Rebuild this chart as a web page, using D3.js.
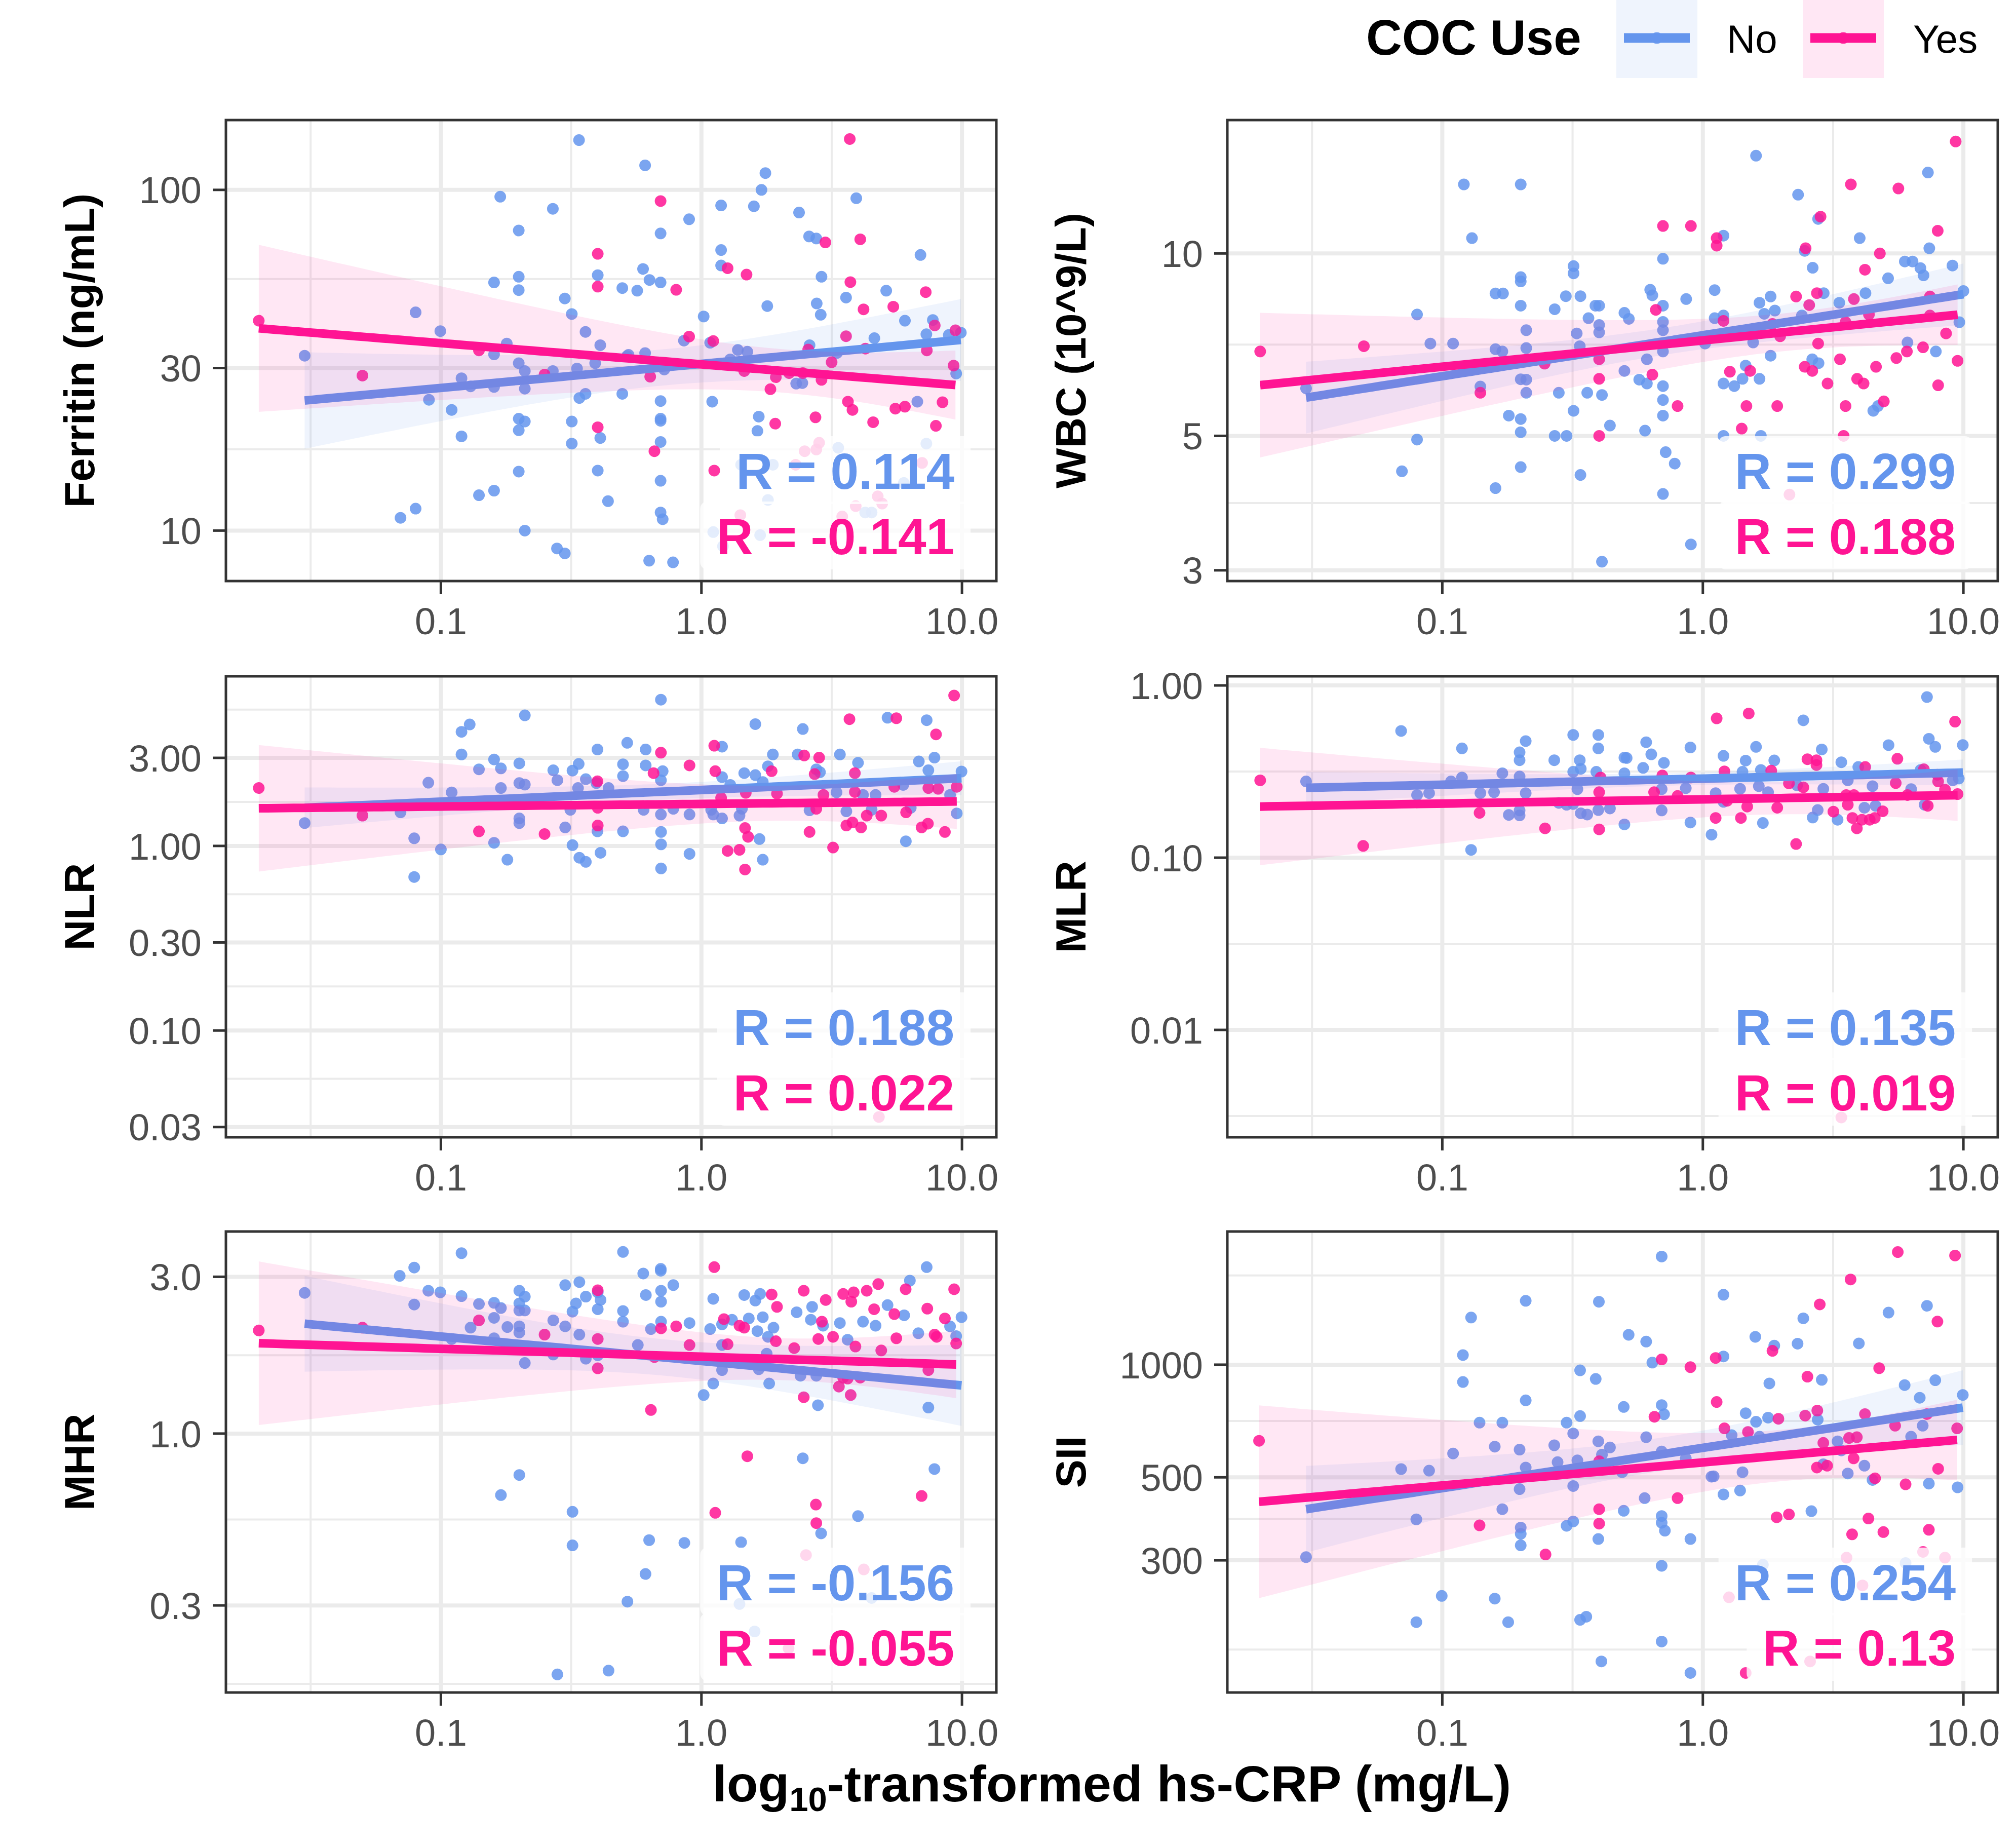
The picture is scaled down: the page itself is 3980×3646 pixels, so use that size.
<!DOCTYPE html>
<html>
<head>
<meta charset="utf-8">
<script src="https://cdn.jsdelivr.net/npm/d3@7/dist/d3.min.js"></script>
<style>
body { margin: 0; background: #fff; }
text { font-family: "Liberation Sans", Arial, Helvetica, sans-serif; }
</style>
</head>
<body>
<div id="chart-area"></div>
<script>
// points, [hs-CRP, marker]
var ferritinNo = [[0.339,140],[0.608,118],[1.76,112],[1.70,100],[0.169,95.5],[0.269,88],[1.19,90],[1.59,89.5],[2.37,85.8],[3.93,94.5],[0.199,76],[0.897,82],[0.697,74.5],[2.59,73],[2.76,72],[6.93,64.4],[1.19,66.6],[1.19,60],[0.597,58.6],[0.40,56.2],[0.199,55.6],[0.632,54.4],[0.697,53.5],[0.16,53.5],[0.199,50.8],[0.497,51.5],[0.567,50.6],[2.89,55.6],[5.12,50.6],[3.59,48.3],[0.299,48.0],[1.79,45.6],[2.77,46.4],[2.87,43],[0.080,43.7],[0.318,43.2],[1.02,42.5],[6.04,41.3],[7.73,41.5],[9.9,38.1],[8.9,37.5],[7.3,37.7],[4.61,36.7],[0.0995,38.5],[0.359,38.3],[0.179,35.4],[0.409,35],[0.857,36.1],[1.08,35.6],[1.38,33.9],[1.50,33.5],[2.60,35],[0.030,32.6],[0.16,32.9],[0.608,33.2],[0.518,32.5],[1.29,31.8],[0.199,31.0],[0.391,31],[0.333,29.9],[0.269,29.4],[0.21,29.4],[0.12,28.0],[0.13,26.5],[0.16,26.4],[0.21,26.1],[0.090,24.2],[0.110,22.6],[0.34,24.5],[0.359,25.2],[0.497,25.2],[0.697,24.0],[1.10,23.9],[2.31,27.0],[2.44,27.1],[6.74,23.9],[0.199,21.3],[0.21,20.9],[0.318,20.9],[0.697,21.3],[0.697,21],[1.66,21.6],[0.199,19.7],[0.12,18.9],[0.318,18.0],[0.409,18.7],[0.697,18.2],[1.64,19.6],[0.199,14.9],[0.40,15.0],[0.697,14.0],[0.14,12.7],[0.16,13.1],[0.438,12.2],[0.070,10.9],[0.080,11.6],[0.697,11.3],[0.71,10.8],[0.21,10],[0.279,8.86],[0.299,8.57],[0.63,8.16],[0.778,8.07],[3.35,17.5],[1.8,12.3],[4.25,11.3],[4.5,11.3],[5.98,13.8],[7.3,18.0],[1.68,9.7],[1.21,9.0],[1.11,9.9],[9.5,28.9],[1.88,15.6],[1.42,15.6],[3.31,33.2],[0.72,29.7],[0.525,32.8]];
var ferritinYes = [[3.71,141],[0.697,92.7],[4.07,71.6],[2.99,70.1],[0.40,64.9],[0.40,52],[1.26,58.9],[1.49,56.4],[0.80,50.9],[3.73,53.6],[7.26,50.1],[4.19,44.6],[5.45,45.4],[7.86,40],[9.44,38.7],[0.020,41.3],[0.897,37.1],[1.11,36],[3.59,37.2],[4.26,34.2],[2.57,34],[7.33,33.8],[0.14,33.8],[9.29,30.5],[0.050,28.5],[0.25,28.7],[0.636,28.3],[1.46,29.4],[1.93,28.2],[2.45,29.0],[3.16,31.2],[2.89,27.7],[1.84,26.0],[3.65,23.9],[3.8,22.6],[5.55,22.8],[6.04,23.1],[8.42,23.8],[2.74,21.5],[1.92,20.6],[4.56,20.8],[7.94,20.3],[0.40,20.1],[0.66,17.1],[1.12,15.0],[2.17,29],[2.83,18.1],[2.76,17.3],[2.49,17.1],[2.3,15.6],[7.03,15.8],[4.75,12.6],[4.94,12.0],[3.91,11.8],[3.47,11.0],[1.41,11.1]];

var wbcNo = [[1.60,14.5],[7.31,13.6],[0.121,13.0],[0.2,13.0],[2.32,12.5],[2.77,11.4],[0.13,10.6],[1.2,10.7],[4.0,10.6],[2.46,10.1],[7.4,10.2],[0.703,9.8],[5.96,9.7],[6.38,9.7],[6.84,9.46],[7.03,9.2],[9.08,9.55],[2.64,9.47],[0.319,9.53],[0.319,9.27],[0.2,9.14],[0.2,8.99],[5.14,9.1],[10.0,8.67],[0.628,8.71],[0.64,8.53],[1.11,8.7],[1.82,8.49],[2.91,8.6],[4.21,8.6],[0.16,8.59],[0.171,8.59],[0.298,8.5],[0.339,8.5],[0.863,8.41],[1.65,8.29],[3.34,8.29],[0.2,8.2],[0.27,8.09],[0.387,8.2],[0.40,8.2],[0.703,8.2],[0.50,7.98],[1.72,7.95],[1.89,8.05],[1.2,7.9],[1.11,7.82],[0.52,7.8],[2.4,7.9],[0.080,7.93],[0.703,7.71],[0.364,7.82],[0.40,7.62],[0.703,7.47],[6.1,7.13],[9.65,7.7],[0.40,7.41],[0.21,7.47],[0.328,7.38],[0.09,7.1],[0.11,7.1],[0.21,6.98],[0.337,7.03],[1.02,7.1],[1.56,7.13],[7.84,6.89],[0.16,6.95],[0.17,6.89],[0.703,6.89],[1.82,6.78],[0.61,6.69],[2.63,6.69],[2.78,6.59],[1.46,6.53],[0.50,6.4],[1.42,6.21],[1.65,6.21],[0.2,6.2],[0.21,6.19],[0.57,6.19],[0.61,6.1],[0.703,6.04],[1.2,6.1],[1.32,6.04],[0.14,6.03],[0.030,5.99],[0.28,5.89],[0.36,5.89],[0.41,5.84],[0.21,5.89],[0.703,5.73],[0.319,5.5],[0.703,5.4],[0.18,5.4],[0.2,5.33],[4.51,5.5],[4.7,5.6],[0.44,5.2],[0.6,5.1],[0.2,5.07],[0.27,5.0],[0.30,5.0],[1.2,5.0],[1.67,5.0],[0.080,4.93],[0.72,4.7],[0.78,4.5],[0.070,4.37],[0.2,4.44],[0.339,4.31],[0.16,4.1],[0.703,4.01],[0.90,3.31],[0.41,3.1]];
var wbcYes = [[9.34,15.3],[3.7,13.0],[5.63,12.8],[2.83,11.5],[0.703,11.1],[0.90,11.1],[1.13,10.6],[1.13,10.3],[7.97,10.9],[2.48,10.2],[4.78,10.0],[4.19,9.4],[2.28,8.49],[2.74,8.6],[3.8,8.41],[7.44,8.49],[2.56,8.22],[0.66,8.07],[4.34,7.93],[7.44,7.9],[1.2,7.74],[1.85,7.65],[3.53,7.7],[1.98,7.3],[8.58,7.38],[2.77,7.1],[7.0,7.0],[6.07,6.89],[0.050,7.03],[0.020,6.89],[0.4,6.69],[5.53,6.72],[3.36,6.69],[9.5,6.65],[0.247,6.58],[1.27,6.38],[1.52,6.4],[2.46,6.5],[2.63,6.4],[4.62,6.5],[0.64,6.31],[0.4,6.21],[3.91,6.21],[4.14,6.1],[3.01,6.1],[8.0,6.06],[0.14,5.89],[0.8,5.6],[1.47,5.6],[1.93,5.6],[3.53,5.6],[4.95,5.7],[1.41,5.14],[0.4,5.0],[3.47,5.0],[2.15,4.0]];

var nlrNo = [[0.699,6.2],[0.21,5.1],[0.129,4.55],[0.12,4.15],[1.61,4.57],[2.45,4.3],[5.18,4.95],[7.32,4.8],[0.519,3.62],[0.399,3.33],[0.611,3.33],[1.2,3.45],[0.12,3.13],[0.16,2.94],[0.2,2.8],[1.88,3.13],[2.34,3.13],[3.4,3.13],[7.84,3.01],[6.83,2.87],[3.99,2.82],[0.338,2.78],[0.14,2.6],[0.17,2.63],[0.5,2.77],[0.611,2.73],[0.27,2.57],[0.32,2.56],[0.71,2.54],[7.43,2.57],[9.96,2.53],[1.8,2.7],[1.46,2.48],[1.61,2.42],[2.76,2.6],[2.85,2.51],[1.2,2.36],[0.5,2.39],[0.699,2.27],[0.28,2.27],[0.0895,2.2],[0.36,2.3],[0.2,2.19],[0.21,2.15],[0.17,2.06],[0.336,2.06],[0.395,2.19],[0.44,2.06],[1.29,2.14],[1.72,2.22],[5.95,2.14],[9.0,1.89],[0.11,1.95],[3.3,1.95],[4.66,1.89],[4.17,1.89],[0.314,1.57],[0.6,1.57],[0.78,1.59],[1.09,1.57],[1.43,1.59],[2.6,1.56],[3.6,1.54],[4.5,1.57],[6.36,1.61],[9.55,1.5],[0.07,1.52],[0.030,1.33],[0.2,1.41],[0.2,1.33],[0.699,1.48],[0.90,1.48],[1.11,1.48],[1.2,1.41],[1.4,1.46],[0.3,1.26],[0.399,1.2],[0.5,1.2],[0.7,1.19],[0.7,1.02],[0.079,1.1],[0.16,1.04],[0.32,1.01],[1.67,1.09],[6.09,1.06],[0.1,0.957],[0.41,0.918],[0.9,0.906],[0.18,0.842],[0.34,0.863],[0.36,0.82],[1.72,0.842],[0.7,0.755],[0.079,0.679]];
var nlrYes = [[9.33,6.53],[3.7,4.86],[5.6,4.92],[7.95,4.02],[1.12,3.49],[0.699,3.2],[2.48,3.09],[2.83,3.01],[0.9,2.73],[0.655,2.48],[1.13,2.54],[1.86,2.54],[3.88,2.48],[2.72,2.45],[0.399,2.24],[0.02,2.06],[7.43,2.06],[8.1,2.04],[9.55,2.09],[5.5,2.09],[1.48,1.94],[1.95,1.92],[2.94,1.89],[3.88,1.96],[1.19,1.82],[0.4,1.61],[0.05,1.46],[4.31,1.46],[4.9,1.46],[6.1,1.52],[2.76,1.59],[0.4,1.29],[0.14,1.2],[0.25,1.16],[1.47,1.25],[1.51,1.12],[2.6,1.19],[3.6,1.29],[3.8,1.34],[4.1,1.26],[7.0,1.26],[7.4,1.32],[8.6,1.19],[3.2,0.98],[1.26,0.94],[1.4,0.953],[1.47,0.745],[4.8,0.034]];

var mlrNo = [[7.25,0.856],[0.0695,0.544],[2.43,0.627],[0.318,0.516],[0.397,0.516],[0.209,0.475],[0.397,0.431],[0.606,0.468],[0.896,0.436],[1.6,0.44],[7.37,0.49],[7.8,0.44],[9.95,0.451],[5.16,0.45],[2.86,0.425],[0.119,0.431],[0.198,0.409],[0.198,0.368],[0.634,0.398],[1.2,0.39],[0.5,0.381],[0.51,0.379],[0.269,0.368],[0.337,0.368],[0.709,0.355],[1.46,0.366],[1.88,0.367],[3.4,0.358],[0.59,0.332],[0.318,0.315],[0.39,0.315],[0.34,0.328],[0.5,0.309],[0.17,0.309],[0.198,0.296],[0.119,0.292],[1.42,0.315],[1.67,0.323],[3.95,0.336],[6.85,0.323],[9.6,0.288],[9.1,0.281],[0.030,0.277],[0.108,0.277],[3.6,0.281],[0.86,0.253],[1.39,0.251],[1.64,0.26],[2.3,0.263],[4.48,0.26],[6.3,0.25],[0.08,0.231],[0.089,0.237],[0.14,0.237],[0.158,0.24],[0.209,0.237],[0.33,0.25],[0.695,0.25],[1.12,0.237],[1.78,0.24],[2.9,0.251],[0.28,0.208],[0.3,0.203],[0.318,0.205],[1.2,0.211],[0.695,0.188],[0.44,0.193],[0.397,0.189],[0.198,0.188],[0.34,0.181],[0.36,0.178],[0.18,0.177],[0.198,0.176],[2.76,0.189],[4.17,0.195],[4.6,0.2],[7.1,0.203],[0.5,0.156],[0.896,0.16],[1.7,0.159],[2.64,0.171],[3.29,0.166],[1.08,0.136],[0.129,0.111]];
var mlrYes = [[1.5,0.687],[1.13,0.644],[9.29,0.616],[2.52,0.373],[2.73,0.368],[2.73,0.345],[5.58,0.375],[4.2,0.336],[1.21,0.317],[1.83,0.32],[7.05,0.326],[7.94,0.303],[0.699,0.3],[0.405,0.292],[0.9,0.292],[0.02,0.281],[8.0,0.277],[5.5,0.271],[8.5,0.248],[9.5,0.234],[2.14,0.27],[2.43,0.256],[0.65,0.24],[0.4,0.24],[0.8,0.228],[3.55,0.231],[3.8,0.231],[6.1,0.231],[1.24,0.214],[1.48,0.198],[1.93,0.195],[3.6,0.203],[7.3,0.2],[0.139,0.182],[3.17,0.185],[4.9,0.186],[1.12,0.17],[1.4,0.17],[3.75,0.17],[4.08,0.166],[4.37,0.166],[4.57,0.17],[3.9,0.148],[0.248,0.148],[0.4,0.146],[0.0497,0.117],[2.28,0.12],[3.4,0.0031]];

var mhrNo = [[0.12,3.54],[0.5,3.57],[0.079,3.2],[0.0695,3.02],[0.698,3.17],[0.698,3.13],[0.598,3.07],[7.32,3.21],[6.31,2.92],[0.030,2.68],[0.0895,2.72],[0.0995,2.69],[0.12,2.62],[0.2,2.72],[0.21,2.61],[0.3,2.83],[0.34,2.89],[0.36,2.61],[0.4,2.69],[0.41,2.55],[0.612,2.64],[0.7,2.72],[0.7,2.52],[0.78,2.83],[1.11,2.57],[1.46,2.64],[1.61,2.54],[1.68,2.66],[0.079,2.47],[0.14,2.48],[0.16,2.5],[0.17,2.41],[0.2,2.49],[0.2,2.37],[0.21,2.37],[0.32,2.35],[0.33,2.49],[0.4,2.39],[0.5,2.36],[2.32,2.34],[2.66,2.43],[5.18,2.46],[6.0,2.29],[9.96,2.26],[1.72,2.26],[1.52,2.24],[1.31,2.22],[1.2,2.15],[2.63,2.22],[2.93,2.13],[3.4,2.17],[4.17,2.19],[4.66,2.13],[9.0,2.12],[0.9,2.17],[1.08,2.08],[0.7,2.19],[0.5,2.19],[0.64,2.08],[0.16,2.25],[0.18,2.11],[0.2,2.12],[0.2,2.03],[0.27,2.21],[0.3,2.12],[0.13,2.1],[1.89,2.1],[1.64,2.05],[1.8,1.97],[6.8,2.02],[9.5,1.98],[0.34,2.0],[0.11,1.94],[0.16,1.95],[0.57,1.86],[1.2,1.86],[3.64,1.93],[0.27,1.74],[0.36,1.69],[0.4,1.73],[1.78,1.75],[0.21,1.64],[1.2,1.56],[1.66,1.57],[2.4,1.5],[2.76,1.5],[1.11,1.42],[1.82,1.42],[1.02,1.31],[2.8,1.22],[7.43,1.2],[2.45,0.841],[7.84,0.78],[0.2,0.748],[0.17,0.65],[0.32,0.578],[3.99,0.561],[2.88,0.497],[0.32,0.457],[0.63,0.474],[0.86,0.465],[1.42,0.467],[0.61,0.374],[0.52,0.308],[0.28,0.185],[0.44,0.19],[1.4,0.303],[4.5,0.316],[1.6,0.25]];
var mhrYes = [[1.12,3.21],[0.02,2.06],[0.4,2.73],[2.47,2.72],[1.86,2.65],[3.5,2.66],[3.84,2.69],[4.31,2.72],[4.77,2.85],[6.08,2.75],[9.33,2.75],[3.0,2.55],[3.76,2.52],[1.95,2.43],[4.6,2.39],[5.5,2.31],[7.36,2.4],[8.6,2.24],[1.22,2.23],[1.4,2.13],[1.46,2.1],[0.8,2.12],[0.7,2.09],[2.9,2.19],[0.14,2.21],[0.05,2.1],[0.25,2.0],[7.85,2.0],[8.0,1.97],[9.5,1.88],[5.6,1.95],[3.2,1.97],[2.81,1.94],[1.93,1.91],[1.26,1.87],[0.9,1.86],[0.4,1.94],[2.27,1.82],[3.9,1.84],[4.9,1.79],[0.66,1.71],[0.4,1.58],[7.43,1.56],[3.5,1.48],[3.64,1.47],[4.07,1.48],[3.37,1.39],[3.74,1.31],[2.47,1.29],[0.64,1.18],[1.5,0.853],[7.0,0.646],[1.13,0.574],[2.75,0.608],[2.76,0.534],[2.52,0.427],[4.2,0.386],[2.16,0.222]];

var siiNo = [[0.695,1946],[0.209,1482],[0.399,1473],[1.2,1538],[0.129,1337],[0.519,1202],[0.606,1153],[2.43,1330],[5.16,1378],[7.25,1437],[1.59,1187],[1.88,1125],[2.31,1138],[3.97,1140],[0.12,1061],[0.64,1013],[1.2,1052],[0.338,966],[0.388,916],[0.12,899],[2.86,911],[1.8,891],[5.95,882],[7.8,909],[9.95,830],[6.8,816],[0.209,803],[0.695,780],[0.71,737],[0.497,771],[0.338,729],[1.46,742],[1.6,704],[1.78,722],[2.76,713],[0.139,700],[0.17,700],[0.3,700],[0.318,655],[0.606,640],[1.29,648],[1.65,642],[6.3,642],[6.98,687],[3.29,624],[3.4,590],[0.11,579],[0.159,604],[0.198,593],[0.269,609],[0.397,624],[0.44,601],[0.41,575],[0.695,586],[0.277,549],[0.33,555],[0.209,531],[0.0695,526],[0.089,521],[0.49,516],[0.86,562],[1.08,502],[1.1,503],[1.42,516],[4.17,537],[3.6,512],[4.48,492],[7.37,481],[9.5,470],[2.9,542],[0.318,474],[0.198,465],[1.2,450],[1.39,461],[0.598,440],[0.17,411],[0.497,407],[2.61,406],[0.0795,386],[0.695,394],[0.695,378],[0.318,381],[0.3,371],[0.715,360],[0.2,367],[0.2,353],[0.397,342],[0.896,342],[0.2,329],[0.030,306],[0.695,290],[0.0995,241],[0.159,237],[0.338,208],[0.357,212],[0.0795,205],[0.179,205],[0.695,182],[0.408,161],[0.896,150],[1.7,292],[6.0,295]];
var siiYes = [[5.6,2000],[9.29,1958],[3.69,1690],[2.81,1449],[7.95,1304],[0.695,1033],[0.896,985],[1.12,1042],[1.85,1089],[4.75,979],[2.52,929],[1.13,795],[0.652,726],[1.95,717],[2.47,731],[2.75,754],[4.19,738],[7.25,738],[9.46,676],[1.21,676],[1.49,661],[5.47,687],[3.64,637],[3.9,640],[2.9,618],[0.0198,626],[3.79,562],[0.4,552],[2.74,531],[3.0,537],[8.0,527],[4.58,497],[6.0,479],[0.05,452],[0.8,440],[0.4,411],[1.92,391],[2.14,398],[4.32,388],[0.139,372],[0.4,376],[3.74,352],[4.93,357],[7.37,362],[0.249,311],[1.46,150],[3.56,305],[7.0,316],[8.5,305],[1.26,239],[4.1,257],[2.58,161]];

// axes
var xLim = [0.01496, 13.55];
var xBreaks = [0.01, 0.1, 1, 10, 100];
var xLabels = ["0.01", "0.1", "1.0", "10.0", "100.0"];

var yTitles = ["Ferritin (ng/mL)", "WBC (10^9/L)", "NLR", "MLR", "MHR", "SII"];
var yLims = [[7.11, 160.3], [2.88, 16.6], [0.0264, 8.30], [0.00238, 1.13], [0.163, 4.12], [133, 2270]];
var yBreaks = [[10, 30, 100], [3, 5, 10], [0.03, 0.1, 0.3, 1, 3, 10], [0.001, 0.01, 0.1, 1], [0.1, 0.3, 1, 3], [100, 300, 500, 1000, 3000]];
var yLabels = [["10", "30", "100"], ["3", "5", "10"], ["0.03", "0.10", "0.30", "1.00", "3.00", "10.00"], ["0.001", "0.01", "0.10", "1.00"], ["0.1", "0.3", "1.0", "3.0"], ["100", "300", "500", "1000", "3000"]];
var rNo = ["R = 0.114", "R = 0.299", "R = 0.188", "R = 0.135", "R = -0.156", "R = 0.254"];
var rYes = ["R = -0.141", "R = 0.188", "R = 0.022", "R = 0.019", "R = -0.055", "R = 0.13"];
var groups = ["No", "Yes"];

var seriesNo = [ferritinNo, wbcNo, nlrNo, mlrNo, mhrNo, siiNo];
var seriesYes = [ferritinYes, wbcYes, nlrYes, mlrYes, mhrYes, siiYes];

var width = 3980, height = 3646;
var colLeft = [446, 2423], rowTop = [237, 1335, 2431];
var pw = 1521, ph = 910;
var titleOffset = [290, 310];
var blue = "#6495ED", pink = "#FF1493";
var grid = "#EBEBEB", dark = "#333333", tickText = "#4D4D4D";

var svg = d3.select("#chart-area").append("svg")
  .attr("width", width).attr("height", height);
svg.append("rect").attr("width", width).attr("height", height).attr("fill", "#fff");

// lm fit on log10 scales, same as geom_smooth(method = "lm") on log axes
function fitLm(pts) {
  var lx = pts.map(function (d) { return Math.log10(d[0]); });
  var ly = pts.map(function (d) { return Math.log10(d[1]); });
  var n = lx.length, mx = d3.mean(lx), my = d3.mean(ly);
  var sxx = 0, sxy = 0;
  for (var i = 0; i < n; i++) {
    sxx += (lx[i] - mx) * (lx[i] - mx);
    sxy += (lx[i] - mx) * (ly[i] - my);
  }
  var b = sxy / sxx, a = my - b * mx;
  var sse = 0;
  for (i = 0; i < n; i++) sse += Math.pow(ly[i] - (a + b * lx[i]), 2);
  var s = Math.sqrt(sse / (n - 2));
  var t = 1.96 + 2.4 / (n - 2);
  var lo = d3.min(lx), hi = d3.max(lx);
  return d3.range(80).map(function (k) {
    var xv = lo + (hi - lo) * k / 79;
    var fit = a + b * xv;
    var se = s * Math.sqrt(1 / n + (xv - mx) * (xv - mx) / sxx);
    return { x: Math.pow(10, xv), y: Math.pow(10, fit), lo: Math.pow(10, fit - t * se), hi: Math.pow(10, fit + t * se) };
  });
}

function midBreaks(breaks, lim) {
  var out = [];
  for (var k = 0; k < breaks.length - 1; k++) {
    var m = Math.pow(10, (Math.log10(breaks[k]) + Math.log10(breaks[k + 1])) / 2);
    if (m >= lim[0] && m <= lim[1]) out.push(m);
  }
  return out;
}

yTitles.forEach(function (title, i) {
  var col = i % 2, row = Math.floor(i / 2);
  var g = svg.append("g")
    .attr("transform", "translate(" + colLeft[col] + "," + rowTop[row] + ")");

  var x = d3.scaleLog().domain(xLim).range([0, pw]);
  var y = d3.scaleLog().domain(yLims[i]).range([ph, 0]);

  var clipId = "clip" + i;
  g.append("clipPath").attr("id", clipId)
    .append("rect").attr("width", pw).attr("height", ph);

  var inX = function (v) { return v >= xLim[0] && v <= xLim[1]; };
  var inY = function (v) { return v >= yLims[i][0] && v <= yLims[i][1]; };

  // grid
  var gridG = g.append("g");
  midBreaks(yBreaks[i], yLims[i]).forEach(function (v) {
    gridG.append("line").attr("x1", 0).attr("x2", pw).attr("y1", y(v)).attr("y2", y(v))
      .attr("stroke", grid).attr("stroke-width", 4);
  });
  midBreaks(xBreaks, xLim).forEach(function (v) {
    gridG.append("line").attr("y1", 0).attr("y2", ph).attr("x1", x(v)).attr("x2", x(v))
      .attr("stroke", grid).attr("stroke-width", 4);
  });
  yBreaks[i].forEach(function (v) {
    if (!inY(v)) return;
    gridG.append("line").attr("x1", 0).attr("x2", pw).attr("y1", y(v)).attr("y2", y(v))
      .attr("stroke", grid).attr("stroke-width", 8);
  });
  xBreaks.forEach(function (v) {
    if (!inX(v)) return;
    gridG.append("line").attr("y1", 0).attr("y2", ph).attr("x1", x(v)).attr("x2", x(v))
      .attr("stroke", grid).attr("stroke-width", 8);
  });

  // points
  [seriesNo[i], seriesYes[i]].forEach(function (pts, k) {
    g.append("g").selectAll("circle").data(pts).enter().append("circle")
      .attr("cx", function (d) { return x(d[0]); })
      .attr("cy", function (d) { return y(d[1]); })
      .attr("r", 11.5)
      .attr("fill", k === 0 ? blue : pink)
      .attr("fill-opacity", 0.85);
  });

  // smooths
  var area = d3.area()
    .x(function (d) { return x(d.x); })
    .y0(function (d) { return y(d.lo); })
    .y1(function (d) { return y(d.hi); });
  var line = d3.line()
    .x(function (d) { return x(d.x); })
    .y(function (d) { return y(d.y); });
  var smoothG = g.append("g").attr("clip-path", "url(#" + clipId + ")");
  [seriesNo[i], seriesYes[i]].forEach(function (pts, k) {
    var fit = fitLm(pts);
    var c = k === 0 ? blue : pink;
    smoothG.append("path").datum(fit).attr("d", area).attr("fill", c).attr("fill-opacity", 0.1);
    smoothG.append("path").datum(fit).attr("d", line).attr("fill", "none")
      .attr("stroke", c).attr("stroke-width", 17);
  });

  // R labels
  var tx = x(10) - 15;
  [[rNo[i], blue, ph - 182], [rYes[i], pink, ph - 53]].forEach(function (r) {
    var box = g.append("rect");
    var t = g.append("text")
      .attr("x", tx).attr("y", r[2])
      .attr("text-anchor", "end")
      .attr("font-size", 100).attr("font-weight", "bold")
      .attr("fill", r[1])
      .text(r[0]);
    var w = t.node().getComputedTextLength();
    box.attr("x", tx - w - 32).attr("y", r[2] - 104)
      .attr("width", w + 64).attr("height", 134)
      .attr("rx", 14).attr("fill", "#fff").attr("fill-opacity", 0.8);
  });

  // border
  g.append("rect").attr("width", pw).attr("height", ph)
    .attr("fill", "none").attr("stroke", dark).attr("stroke-width", 5);

  // ticks + labels
  yBreaks[i].forEach(function (v, j) {
    if (!inY(v)) return;
    g.append("line").attr("x1", -26).attr("x2", 0).attr("y1", y(v)).attr("y2", y(v))
      .attr("stroke", dark).attr("stroke-width", 5);
    g.append("text").attr("x", -48).attr("y", y(v)).attr("dy", "0.36em")
      .attr("text-anchor", "end").attr("font-size", 74).attr("fill", tickText)
      .text(yLabels[i][j]);
  });
  xBreaks.forEach(function (v, j) {
    if (!inX(v)) return;
    g.append("line").attr("y1", ph).attr("y2", ph + 26).attr("x1", x(v)).attr("x2", x(v))
      .attr("stroke", dark).attr("stroke-width", 5);
    g.append("text").attr("x", x(v)).attr("y", ph + 105)
      .attr("text-anchor", "middle").attr("font-size", 74).attr("fill", tickText)
      .text(xLabels[j]);
  });

  g.append("text")
    .attr("transform", "translate(" + (-titleOffset[col]) + "," + (ph / 2) + ") rotate(-90)")
    .attr("text-anchor", "middle").attr("dy", "0.36em")
    .attr("font-size", 84).attr("font-weight", "bold").attr("fill", "#000")
    .text(title);
});

// x title
var xTitle = svg.append("text")
  .attr("x", (colLeft[0] + colLeft[1] + pw) / 2).attr("y", 3556)
  .attr("text-anchor", "middle")
  .attr("font-size", 101).attr("font-weight", "bold").attr("fill", "#000");
xTitle.append("tspan").text("log");
xTitle.append("tspan").attr("font-size", 67).attr("dy", 19).text("10");
xTitle.append("tspan").attr("dy", -19).text("-transformed hs-CRP (mg/L)");

// legend
var legend = svg.append("g");
legend.append("text").attr("x", 2697).attr("y", 108)
  .attr("font-size", 98).attr("font-weight", "bold").attr("fill", "#000")
  .text("COC Use");
var keyX = [3191, 3559];
groups.forEach(function (grp, k) {
  var c = k === 0 ? blue : pink;
  legend.append("rect").attr("x", keyX[k]).attr("y", 0).attr("width", 160).attr("height", 154)
    .attr("fill", c).attr("fill-opacity", 0.1);
  legend.append("line").attr("x1", keyX[k] + 15).attr("x2", keyX[k] + 145)
    .attr("y1", 75).attr("y2", 75).attr("stroke", c).attr("stroke-width", 19);
  legend.append("circle").attr("cx", keyX[k] + 80).attr("cy", 75).attr("r", 11.5)
    .attr("fill", c).attr("fill-opacity", 0.85);
  legend.append("text").attr("x", keyX[k] + 218).attr("y", 104)
    .attr("font-size", 78).attr("fill", "#000").text(grp);
});
</script>
</body>
</html>
